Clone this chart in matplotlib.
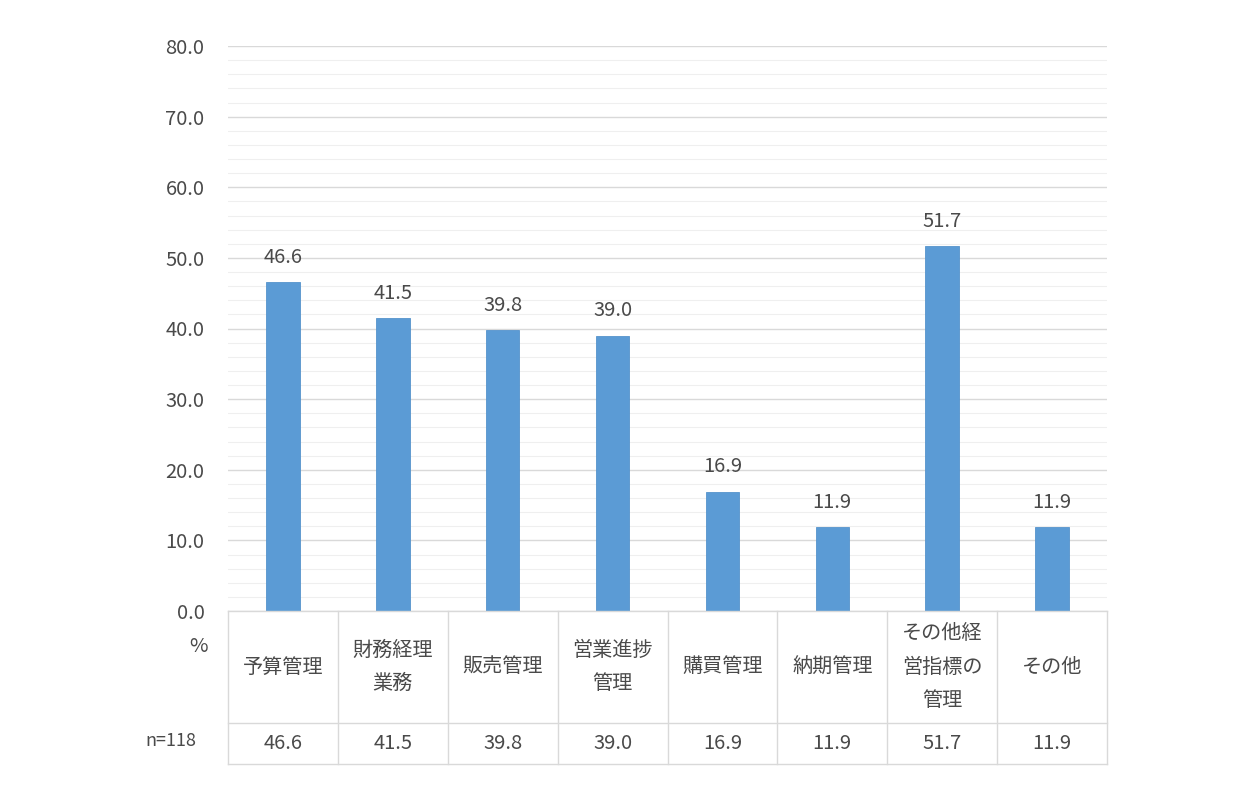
import matplotlib
matplotlib.use("Agg")
import matplotlib.pyplot as plt
from matplotlib.ticker import MultipleLocator, FormatStrFormatter

plt.rcParams['font.family'] = ['Noto Sans CJK JP', 'DejaVu Sans']

categories = ["予算管理", "財務経理\n業務", "販売管理", "営業進捗\n管理", "購買管理", "納期管理", "その他経\n営指標の\n管理", "その他"]
values = [46.6, 41.5, 39.8, 39.0, 16.9, 11.9, 51.7, 11.9]
n_label = "n=118"
unit_label = "%"

W, H = 1240, 800
fig = plt.figure(figsize=(W/100, H/100), dpi=100)
L, R = 228/W, 1107/W
ax = fig.add_axes([L, 1-611/H, R-L, (611-46)/H])
tc = "#4a4a4a"
grid_major = "#d9d9d9"
grid_minor = "#efefef"
bar_color = "#5B9BD5"
fs = 14.5

x = list(range(len(categories)))
ax.bar(x, values, width=0.305, color=bar_color, edgecolor="#5593cc", linewidth=0.6, zorder=3)
ax.set_xlim(-0.5, len(categories)-0.5)
ax.set_ylim(0, 80)
ax.yaxis.set_major_locator(MultipleLocator(10))
ax.yaxis.set_minor_locator(MultipleLocator(2))
ax.yaxis.set_major_formatter(FormatStrFormatter('%.1f'))
ax.grid(axis='y', which='major', color=grid_major, linewidth=1.0, zorder=0)
ax.grid(axis='y', which='minor', color=grid_minor, linewidth=0.8, zorder=0)
for s in ax.spines.values():
    s.set_visible(False)
ax.tick_params(axis='y', which='both', length=0, labelsize=fs, labelcolor=tc, pad=17)
ax.tick_params(axis='x', length=0, labelbottom=False)
for xi, v in zip(x, values):
    ax.text(xi, v + 3.5, f"{v:.1f}", ha='center', va='center', fontsize=fs, color=tc)

# table
tax = fig.add_axes([L, 1-764/H, R-L, (764-611)/H])
tax.set_xlim(-0.5, len(categories)-0.5)
tax.set_ylim(764, 611)
tax.axis('off')
lc = "#d9d9d9"
for b in [x0 - 0.5 for x0 in x] + [len(categories)-0.5]:
    tax.plot([b, b], [611, 764], color=lc, lw=1.0, clip_on=False)
for yy in [611, 723, 764]:
    tax.plot([-0.5, len(categories)-0.5], [yy, yy], color=lc, lw=1.0, clip_on=False)
for xi, c, v in zip(x, categories, values):
    tax.text(xi, 667, c, ha='center', va='center', fontsize=fs, color=tc, linespacing=1.8)
    tax.text(xi, 743.5, f"{v:.1f}", ha='center', va='center', fontsize=fs, color=tc)

fig.text(208/W, 1-647/H, unit_label, ha='right', va='center', fontsize=fs, color=tc)
fig.text(196/W, 1-741/H, n_label, ha='right', va='center', fontsize=13, color=tc)

fig.savefig("out.png", dpi=100, facecolor='white')
